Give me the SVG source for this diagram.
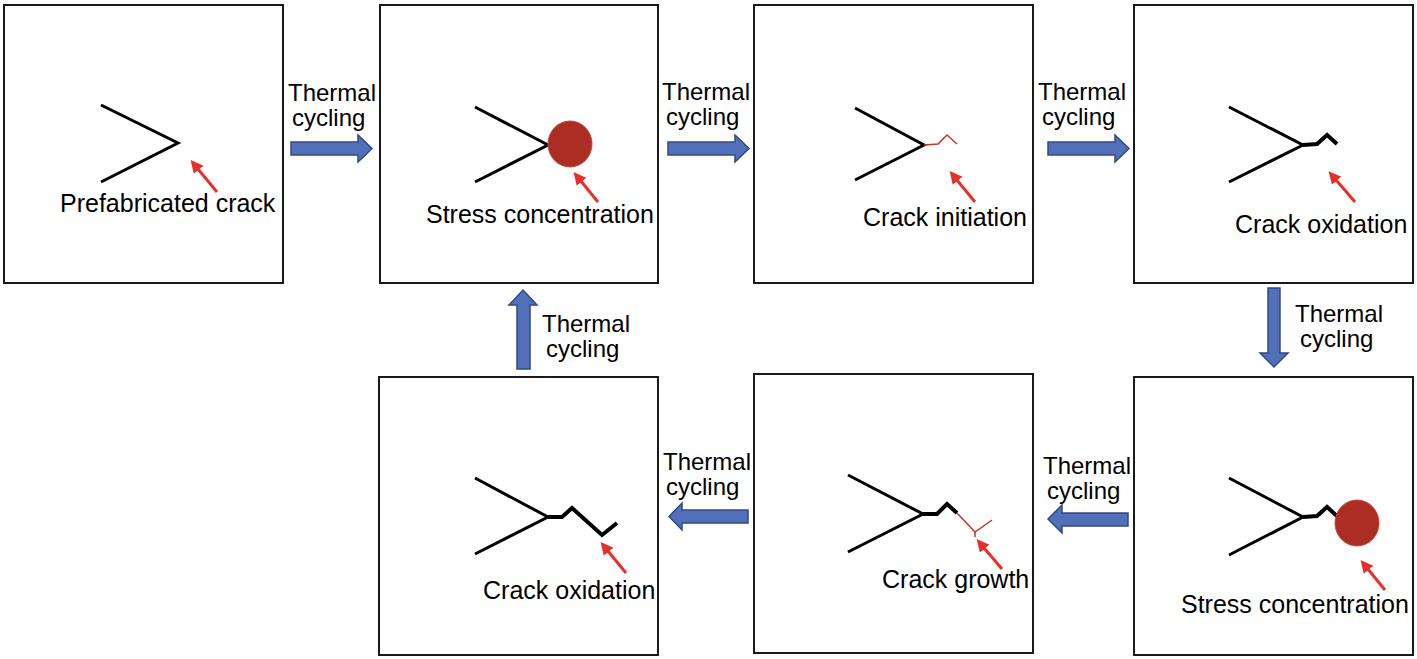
<svg xmlns="http://www.w3.org/2000/svg" width="1417" height="659" viewBox="0 0 1417 659">
<style>
.box{fill:#fff;stroke:#1a1a1a;stroke-width:2}
.crack{fill:none;stroke:#000;stroke-width:3;stroke-linecap:butt;stroke-linejoin:miter}
.ox{fill:none;stroke:#000;stroke-width:4;stroke-linejoin:miter}
.init{fill:none;stroke:#C0392B;stroke-width:1.5}
.spot{fill:#AB2D24;stroke:#C4453D;stroke-width:1}
.ptr{stroke:#E8302A;stroke-width:3;marker-end:url(#rh)}
.lbl{font-family:"Liberation Sans",Arial,sans-serif;font-size:25px;fill:#000}
.tc{font-family:"Liberation Sans",Arial,sans-serif;font-size:24px;fill:#000}
.blue{fill:#5270B8;stroke:#2F4A86;stroke-width:1.5}
</style>
<defs>
<marker id="rh" viewBox="0 0 10 10" refX="7" refY="5" markerWidth="4.2" markerHeight="4.2" orient="auto" markerUnits="strokeWidth">
<path d="M0,0 L10,5 L0,10 z" fill="#E8302A"/>
</marker>
</defs>

<g id="node1">
<rect class="box" x="4" y="5" width="279" height="278"/>
<polyline class="crack" points="101,105 178,143 101,182"/>
<line class="ptr" x1="217" y1="192" x2="193" y2="163"/>
<text class="lbl" x="60" y="212">Prefabricated crack</text>
</g>

<g id="node2">
<rect class="box" x="380" y="5" width="278" height="278"/>
<polyline class="crack" points="475,107 548,145 475,182"/>
<ellipse class="spot" cx="570" cy="144" rx="22" ry="23"/>
<line class="ptr" x1="598" y1="202" x2="576" y2="175"/>
<text class="lbl" x="426" y="223">Stress concentration</text>
</g>

<g id="node3">
<rect class="box" x="754" y="5" width="279" height="278"/>
<polyline class="crack" points="855,108 924,145 855,180"/>
<polyline class="init" points="924,145 938,144 947,135 957,144"/>
<line class="ptr" x1="975" y1="202" x2="952" y2="174"/>
<text class="lbl" x="863" y="226">Crack initiation</text>
</g>

<g id="node4">
<rect class="box" x="1134" y="5" width="279" height="278"/>
<polyline class="crack" points="1229,107 1303,145 1229,182"/>
<polyline class="ox" points="1303,145 1317,144 1327,135 1337,144"/>
<line class="ptr" x1="1355" y1="202" x2="1331" y2="174"/>
<text class="lbl" x="1235" y="233">Crack oxidation</text>
</g>

<g id="node5">
<rect class="box" x="1134" y="377" width="279" height="278"/>
<polyline class="crack" points="1229,478 1303,517 1229,555"/>
<polyline class="ox" points="1303,517 1317,516 1327,507 1337,516"/>
<ellipse class="spot" cx="1357" cy="523" rx="22" ry="23"/>
<line class="ptr" x1="1385" y1="590" x2="1363" y2="563"/>
<text class="lbl" x="1181" y="613">Stress concentration</text>
</g>

<g id="node6">
<rect class="box" x="754" y="374" width="279" height="279"/>
<polyline class="crack" points="848,475 923,514 848,552"/>
<polyline class="ox" points="923,514 937,514 947,504 957,513"/>
<polyline class="init" points="957,513 975,532 992,520"/>
<line class="init" x1="975" y1="532" x2="975" y2="537"/>
<line class="ptr" x1="1002" y1="569" x2="979" y2="542"/>
<text class="lbl" x="882" y="588">Crack growth</text>
</g>

<g id="node7">
<rect class="box" x="379" y="377" width="279" height="278"/>
<polyline class="crack" points="475,478 548,517 475,554"/>
<polyline class="ox" points="548,517 562,517 572,508 602,535 617,523"/>
<line class="ptr" x1="626" y1="573" x2="603" y2="545"/>
<text class="lbl" x="483" y="599">Crack oxidation</text>
</g>

<g id="connectors">
<polygon class="blue" points="291,142 358,142 358,135 372,148.5 358,162 358,155 291,155"/>
<text class="tc"><tspan x="288" y="101">Thermal</tspan><tspan x="292" y="126">cycling</tspan></text>

<polygon class="blue" points="668,142 735,142 735,135 749,148.5 735,162 735,155 668,155"/>
<text class="tc"><tspan x="662" y="100">Thermal</tspan><tspan x="666" y="125">cycling</tspan></text>

<polygon class="blue" points="1048,142 1115,142 1115,135 1129,148.5 1115,162 1115,155 1048,155"/>
<text class="tc"><tspan x="1038" y="100">Thermal</tspan><tspan x="1042" y="125">cycling</tspan></text>

<polygon class="blue" points="1268,288 1280,288 1280,353 1288,353 1274,367 1260,353 1268,353"/>
<text class="tc"><tspan x="1295" y="322">Thermal</tspan><tspan x="1300" y="347">cycling</tspan></text>

<polygon class="blue" points="1128,513 1062,513 1062,505 1048,519 1062,533 1062,526 1128,526"/>
<text class="tc"><tspan x="1043" y="474">Thermal</tspan><tspan x="1047" y="499">cycling</tspan></text>

<polygon class="blue" points="748,510 682,510 682,503 669,516.5 682,530 682,523 748,523"/>
<text class="tc"><tspan x="663" y="470">Thermal</tspan><tspan x="666" y="495">cycling</tspan></text>

<polygon class="blue" points="517,369 530,369 530,305 537,305 523,290 509,305 517,305"/>
<text class="tc"><tspan x="542" y="332">Thermal</tspan><tspan x="546" y="357">cycling</tspan></text>
</g>
</svg>
